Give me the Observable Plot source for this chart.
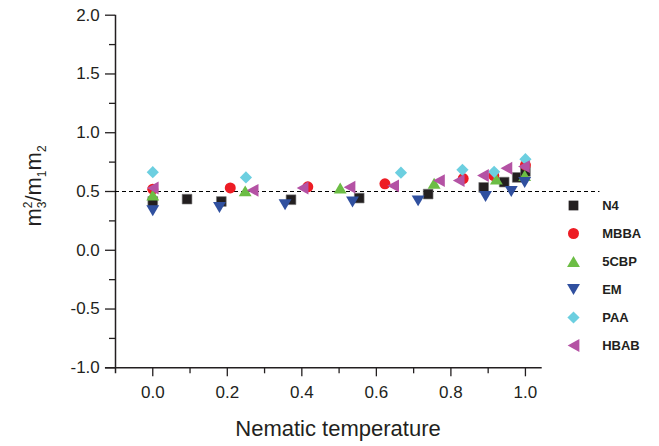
<!DOCTYPE html>
<html>
<head>
<meta charset="utf-8">
<script src="https://cdn.jsdelivr.net/npm/d3@7"></script>
<script src="https://cdn.jsdelivr.net/npm/@observablehq/plot@0.6"></script>
<style>
  html, body { margin: 0; padding: 0; background: #fff; }
  #wrap { position: relative; width: 659px; height: 446px; overflow: hidden; }
  #legend { position: absolute; left: 560px; top: 188.5px; }
</style>
</head>
<body>
<div id="wrap"><div id="chart"></div><div id="legend"></div></div>
<script>
// ---- data ----
const names = ["N4", "MBBA", "5CBP", "EM", "PAA", "HBAB"];
const colors = ["#231f20", "#ed1c24", "#6cbd45", "#30509f", "#6ccfe0", "#b452a4"];

const n4X = [0.0, 0.092, 0.184, 0.371, 0.554, 0.739, 0.888, 0.943, 0.978, 1.0];
const n4Y = [0.415, 0.435, 0.415, 0.43, 0.444, 0.478, 0.535, 0.58, 0.62, 0.67];
const mbbaX = [0.0, 0.208, 0.416, 0.623, 0.833, 0.915, 1.0];
const mbbaY = [0.52, 0.53, 0.54, 0.565, 0.61, 0.635, 0.725];
const cbpX = [0.0, 0.248, 0.503, 0.755, 0.922, 0.998];
const cbpY = [0.47, 0.505, 0.53, 0.57, 0.605, 0.636];
const emX = [0.0, 0.179, 0.355, 0.536, 0.712, 0.893, 0.962, 0.998];
const emY = [0.336, 0.364, 0.387, 0.41, 0.42, 0.458, 0.5, 0.576];
const paaX = [0.0, 0.25, 0.666, 0.831, 0.916, 1.0];
const paaY = [0.664, 0.62, 0.66, 0.684, 0.667, 0.775];
const hbabX = [0.0, 0.268, 0.402, 0.528, 0.645, 0.768, 0.821, 0.886, 0.949, 0.996];
const hbabY = [0.53, 0.51, 0.53, 0.537, 0.548, 0.593, 0.593, 0.636, 0.698, 0.712];

const xTicks = [0, 0.2, 0.4, 0.6, 0.8, 1.0];
const xMinor = [0.1, 0.3, 0.5, 0.7, 0.9];
const yTicks = [-1, -0.5, 0, 0.5, 1, 1.5, 2];
const yMinor = [-0.75, -0.25, 0.25, 0.75, 1.25, 1.75];
const refLine = [0.5];
const xLabel = "Nematic temperature";

// ---- symbols ----
function tri(dir) {
  return {draw(ctx, size) {
    const s = Math.sqrt(size);
    const hw = 0.66 * s, hh = 0.56 * s;
    if (dir === "up") { ctx.moveTo(0, -hh); ctx.lineTo(hw, hh); ctx.lineTo(-hw, hh); }
    else if (dir === "down") { ctx.moveTo(0, hh); ctx.lineTo(hw, -hh); ctx.lineTo(-hw, -hh); }
    else { const a = 0.6 * s, b = 0.66 * s; ctx.moveTo(-a, 0); ctx.lineTo(a, -b); ctx.lineTo(a, b); }
    ctx.closePath();
  }};
}
const symbols = ["square", "circle", tri("up"), tri("down"), "diamond2", tri("left")];

const seriesX = [n4X, mbbaX, cbpX, emX, paaX, hbabX];
const seriesY = [n4Y, mbbaY, cbpY, emY, paaY, hbabY];
const series = names.map((name, i) => seriesX[i].map((x, j) => ({name, x, y: seriesY[i][j]})));

const R = 5.5;
const fmt = d => d.toFixed(1);

const dotMarks = series.map((data, i) => Plot.dot(data, {
  x: "x", y: "y", r: R, symbol: symbols[i], fill: colors[i],
  stroke: i === 0 ? "#777" : "none", strokeWidth: i === 0 ? 0.6 : 0
}));

const plot = Plot.plot({
  width: 659, height: 446,
  marginLeft: 115, marginTop: 14.7, marginBottom: 78.7, marginRight: 117.3,
  x: {domain: [-0.1, 1.045]},
  y: {domain: [-1, 2]},
  style: {fontFamily: "'Liberation Sans', Arial, sans-serif", fontSize: "17px", color: "#231f20", background: "white", overflow: "visible"},
  marks: [
    Plot.axisY(yTicks, {tickSize: 10, tickPadding: 5.7, tickFormat: fmt, label: null, strokeWidth: 1.3}),
    Plot.axisY(yMinor, {tickSize: 6, fill: "none", label: null, strokeWidth: 1.3}),
    Plot.axisX(xTicks, {tickSize: 9, tickPadding: 9.5, tickFormat: fmt, label: null, strokeWidth: 1.3}),
    Plot.axisX(xMinor, {tickSize: 6, fill: "none", label: null, strokeWidth: 1.3}),
    Plot.ruleX([-0.1], {y1: -1.05, y2: 2, strokeWidth: 1.5, stroke: "#231f20"}),
    Plot.ruleY([-1], {x1: -0.127, x2: 1.045, strokeWidth: 1.5, stroke: "#231f20"}),
    Plot.ruleY(refLine, {x1: -0.1, x2: 1.2, stroke: "#000", strokeWidth: 1, strokeDasharray: "4,3"}),
    ...dotMarks
  ]
});

const svg = d3.select(plot);
// x axis title
svg.append("text")
  .attr("x", 338).attr("y", 436)
  .attr("text-anchor", "middle")
  .attr("font-size", 22)
  .attr("fill", "#231f20")
  .text(xLabel);
// y axis title: m_3^2 / m_1 m_2
const yl = svg.append("text")
  .attr("transform", "translate(41,186) rotate(-90)")
  .attr("text-anchor", "middle")
  .attr("font-size", 22)
  .attr("fill", "#231f20");
yl.append("tspan").text("m");
yl.append("tspan").attr("font-size", 12).attr("dy", -9).text("2");
yl.append("tspan").attr("font-size", 12).attr("dx", -6.7).attr("dy", 14).text("3");
yl.append("tspan").attr("dy", -5).text("/m");
yl.append("tspan").attr("font-size", 12).attr("dy", 5).text("1");
yl.append("tspan").attr("dy", -5).text("m");
yl.append("tspan").attr("font-size", 12).attr("dy", 5).text("2");

document.getElementById("chart").appendChild(plot);

// legend
const legend = Plot.plot({
  width: 99, height: 171, margin: 0,
  y: {type: "point", domain: names, range: [0, 171], padding: 0.5},
  axis: null,
  style: {fontFamily: "'Liberation Sans', Arial, sans-serif", color: "#231f20", background: "transparent"},
  marks: [
    ...names.map((n, i) => Plot.dot([n], {y: d => d, frameAnchor: "left", dx: 13, r: R, symbol: symbols[i], fill: colors[i]})),
    Plot.text(names, {y: d => d, text: d => d, frameAnchor: "left", dx: 41.7, textAnchor: "start", fontSize: 13, fontWeight: "bold", fill: "#231f20"})
  ]
});
document.getElementById("legend").appendChild(legend);
</script>
</body>
</html>
